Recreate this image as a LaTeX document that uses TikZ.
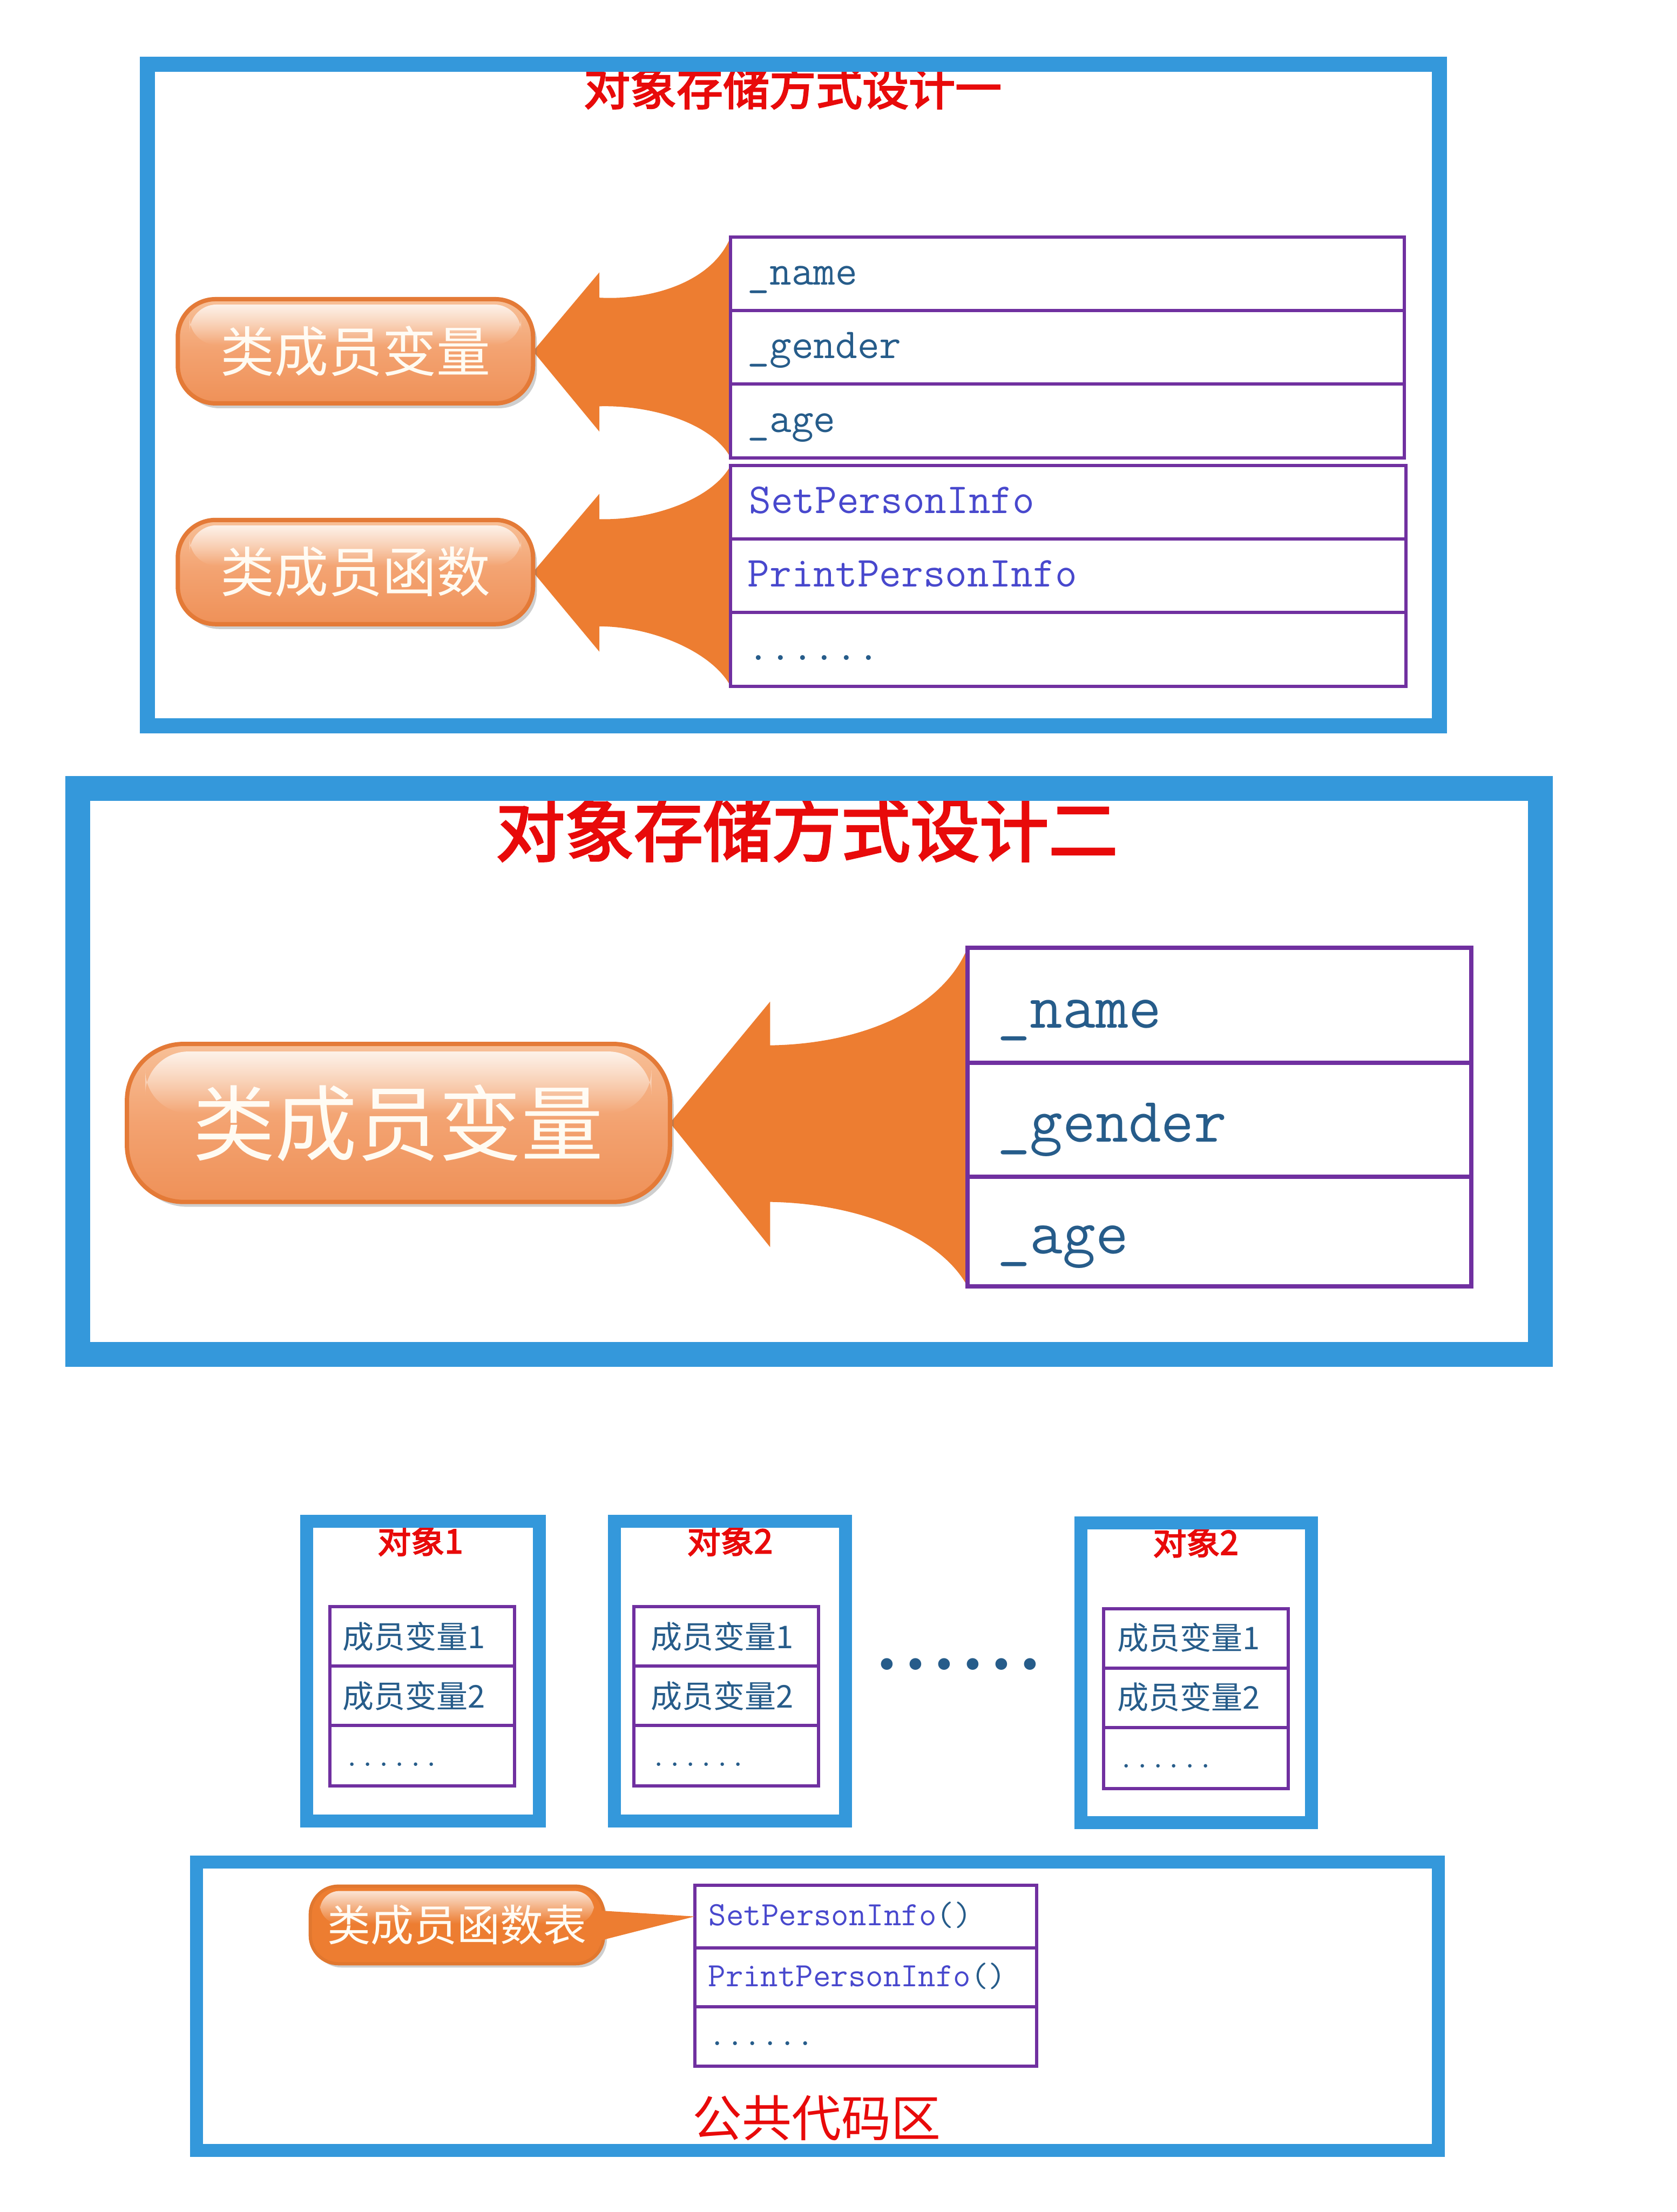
\documentclass[tikz,border=0pt]{standalone}
\usepackage{fontspec}
\newfontfamily\cjk{Noto Sans CJK SC}
\newfontfamily\cjkmed[FakeBold=3]{Noto Sans CJK SC}
\usetikzlibrary{shadows,calc,fadings}
\pgfdeclarelayer{bg}
\pgfsetlayers{bg,main}
\tikzfading[name=glossfade, top color=transparent!20, bottom color=transparent!100]
\definecolor{bluefr}{RGB}{52,152,219}
\definecolor{purp}{RGB}{112,48,160}
\definecolor{tealtxt}{RGB}{38,92,138}
\definecolor{violettxt}{RGB}{72,72,205}
\definecolor{redtxt}{RGB}{232,10,10}
\definecolor{arroworange}{RGB}{237,125,49}
\definecolor{pillline}{RGB}{228,122,55}
\definecolor{pilltop}{RGB}{247,192,152}
\definecolor{pillmid}{RGB}{243,162,112}
\definecolor{pillbot}{RGB}{239,145,88}
\definecolor{pilltext}{RGB}{255,251,242}
\newcommand\myfs[1]{\fontsize{#1}{#1}\selectfont}
\begin{document}
\begin{tikzpicture}[x=2.6123pt,y=-2.6123pt,
  frame/.style={draw=bluefr,rectangle,inner sep=0pt,outer sep=0pt},
  rowbox/.style={draw=purp,line width=6pt,rectangle,inner sep=0pt,outer sep=0pt},
  pill/.style={rectangle,draw=pillline,line width=8pt,top color=pilltop,bottom color=pillbot,middle color=pillmid,
    text=pilltext,inner sep=0pt,outer sep=0pt,
    drop shadow={shadow xshift=7pt,shadow yshift=-9pt,opacity=.35,fill=black!55}},
  pillsat/.style={rectangle,draw=arroworange!95!black,line width=6pt,fill=arroworange,
    text=pilltext,inner sep=0pt,outer sep=0pt,
    drop shadow={shadow xshift=6pt,shadow yshift=-7pt,opacity=.35,fill=black!55}},
  gloss/.style={fill=white,path fading=glossfade,fit fading=true},
  ttl/.style={text=redtxt,font=\cjkmed\myfs{#1},inner sep=0pt},
  mtxt/.style={anchor=base west,inner sep=0pt,text=tealtxt,font=\ttfamily\myfs{#1}},
  ctxt/.style={anchor=west,inner sep=0pt,text=tealtxt,font=\cjk\myfs{58pt}},
  arrowfill/.style={fill=arroworange}]

\begin{pgfonlayer}{bg}
\fill[white] (0,0) rectangle (1189,1568);
\end{pgfonlayer}
\useasboundingbox (0,0) rectangle (1189,1568);

% ---------- titles ----------
\node[ttl=86pt] (t1) at (562,62) {对象存储方式设计一};
\node[ttl=128pt] (t2) at (572,588) {对象存储方式设计二};
\node[ttl=62pt] (ot1) at (298,1092) {对象1};
\node[ttl=62pt] (ot2) at (517.5,1092) {对象2};
\node[ttl=62pt] (ot3) at (847.8,1093) {对象2};
\node[text=redtxt,font=\cjk\myfs{92pt},inner sep=0pt] (t3) at (579,1501.5) {公共代码区};

% ---------- frames ----------
\node[frame,line width=28pt,minimum width=2392.9pt,minimum height=1225.2pt] (f1) at (562.5,280) {};
\node[frame,line width=46pt,minimum width=2709pt,minimum height=1047.5pt] (f2) at (573.5,759.5) {};
\node[frame,line width=24pt,minimum width=431pt,minimum height=555pt] (o1) at (300,1184.75) {};
\node[frame,line width=24pt,minimum width=428.4pt,minimum height=555pt] (o2) at (517.5,1184.75) {};
\node[frame,line width=24pt,minimum width=427pt,minimum height=555pt] (o3) at (848.25,1185.75) {};
\node[frame,line width=24pt,minimum width=2300.6pt,minimum height=534.2pt] (f3) at (579.65,1422.25) {};

% ---------- design 1 rows ----------
\node[rowbox,minimum width=1247.4pt,minimum height=135.8pt] (r11) at (756.75,194) {};
\node[rowbox,minimum width=1247.4pt,minimum height=135.8pt] (r12) at (756.75,246) {};
\node[rowbox,minimum width=1247.4pt,minimum height=137pt] (r13) at (756.75,298.25) {};
\node[rowbox,minimum width=1251.3pt,minimum height=135.8pt] (r21) at (757.5,356) {};
\node[rowbox,minimum width=1251.3pt,minimum height=135.8pt] (r22) at (757.5,408) {};
\node[rowbox,minimum width=1251.3pt,minimum height=137pt] (r23) at (757.5,460.25) {};
\node[mtxt=79pt] (x11) at (530,202) {\_name};
\node[mtxt=79pt] (x12) at (530,254) {\_gender};
\node[mtxt=79pt] (x13) at (530,306.5) {\_age};
\node[mtxt=79pt,text=violettxt] (x21) at (531,364) {SetPersonInfo};
\node[mtxt=79pt,text=violettxt] (x22) at (530,416) {PrintPersonInfo};
\node[mtxt=79pt] (x23) at (530,468) {......};

% ---------- design 2 rows ----------
\node[rowbox,line width=8pt,minimum width=932.6pt,minimum height=212.9pt] (r31) at (864.5,712.75) {};
\node[rowbox,line width=8pt,minimum width=932.6pt,minimum height=210.3pt] (r32) at (864.5,793.75) {};
\node[rowbox,line width=8pt,minimum width=932.6pt,minimum height=203.8pt] (r33) at (864.5,873) {};
\node[mtxt=118pt] (x31) at (707,728.5) {\_name};
\node[mtxt=118pt] (x32) at (707,809.5) {\_gender};
\node[mtxt=118pt] (x33) at (707,888.5) {\_age};

% ---------- objects ----------
\node[rowbox,minimum width=342.2pt,minimum height=109.7pt] (o1a) at (299.5,1160) {};
\node[rowbox,minimum width=342.2pt,minimum height=109.7pt] (o1b) at (299.5,1202) {};
\node[rowbox,minimum width=342.2pt,minimum height=112.3pt] (o1c) at (299.5,1244.5) {};
\node[rowbox,minimum width=342.2pt,minimum height=109.7pt] (o2a) at (515,1160) {};
\node[rowbox,minimum width=342.2pt,minimum height=109.7pt] (o2b) at (515,1202) {};
\node[rowbox,minimum width=342.2pt,minimum height=112.3pt] (o2c) at (515,1244.5) {};
\node[rowbox,minimum width=342.2pt,minimum height=109.7pt] (o3a) at (848,1161.5) {};
\node[rowbox,minimum width=342.2pt,minimum height=109.7pt] (o3b) at (848,1203.5) {};
\node[rowbox,minimum width=342.2pt,minimum height=113.6pt] (o3c) at (848,1246.25) {};
\node[ctxt] (o1t1) at (243,1160) {成员变量1};
\node[ctxt] (o1t2) at (243,1202) {成员变量2};
\node[mtxt=57pt] (o1t3) at (244,1252) {......};
\node[ctxt] (o2t1) at (461.5,1160) {成员变量1};
\node[ctxt] (o2t2) at (461.5,1202) {成员变量2};
\node[mtxt=57pt] (o2t3) at (461.5,1252) {......};
\node[ctxt] (o3t1) at (792.2,1161) {成员变量1};
\node[ctxt] (o3t2) at (792.2,1203) {成员变量2};
\node[mtxt=57pt] (o3t3) at (793,1253) {......};
\node[anchor=base,text=tealtxt,font=\bfseries\myfs{150pt},inner sep=0pt] (dots) at (679.7,1184)
  {.\kern5.9pt.\kern5.9pt.\kern5.9pt.\kern5.9pt.\kern5.9pt.};

% ---------- public code area rows ----------
\node[rowbox,minimum width=633.5pt,minimum height=115.7pt] (b1) at (613.75,1358.5) {};
\node[rowbox,minimum width=633.5pt,minimum height=109.4pt] (b2) at (613.75,1401.6) {};
\node[rowbox,minimum width=633.5pt,minimum height=110pt] (b3) at (613.75,1443.6) {};
\node[mtxt=63pt,text=violettxt] (bt1) at (502.5,1365) {SetPersonInfo\textcolor{tealtxt}{()}};
\node[mtxt=63pt,text=violettxt] (bt2) at (502,1408) {PrintPersonInfo\textcolor{tealtxt}{()}};
\node[mtxt=63pt] (bt3) at (502.5,1450) {......};

% ---------- pills ----------
\node[pill,rounded corners=70pt,minimum width=658pt,minimum height=193pt,font=\cjk\myfs{100pt}] (p1) at (252,249) {类成员变量};
\node[pill,rounded corners=70pt,minimum width=658pt,minimum height=193pt,font=\cjk\myfs{100pt}] (p2) at (252,405.5) {类成员函数};
\node[pill,rounded corners=105pt,minimum width=1005.7pt,minimum height=292.6pt,font=\cjk\myfs{152pt}] (p4) at (282.5,796) {类成员变量};
\node[pillsat,rounded corners=52pt,minimum width=543.4pt,minimum height=143.7pt,font=\cjk\myfs{80pt}] (p3) at (324,1364.5) {类成员函数表};

% callout pointer of the function table
\fill[arrowfill] (420,1354) -- (b1.west) -- (420,1377) -- cycle;

% gloss highlights
\fill[gloss,rounded corners=50pt] ($(p1.north west)+(22pt,-10pt)$) rectangle ($(p1.east)+(-22pt,12pt)$);
\fill[gloss,rounded corners=50pt] ($(p2.north west)+(22pt,-10pt)$) rectangle ($(p2.east)+(-22pt,12pt)$);
\fill[gloss,rounded corners=80pt] ($(p4.north west)+(34pt,-14pt)$) rectangle ($(p4.east)+(-34pt,18pt)$);
\fill[gloss,rounded corners=36pt] ($(p3.north west)+(18pt,-9pt)$) rectangle ($(p3.east)+(-18pt,2pt)$);

% ---------- big arrows ----------
\begin{pgfonlayer}{bg}
\fill[arrowfill] (p1.east) -- (425,193) -- (425,211) .. controls (462,213) and (505,200) .. (r11.north west)
  -- (r13.south west) .. controls (505,300) and (462,287) .. (425,288) -- (425,306) -- cycle;
\fill[arrowfill] (p2.east) -- (425,350) -- (425,368) .. controls (462,369) and (505,354) .. (r21.north west)
  -- (r23.south west) .. controls (505,462) and (462,444) .. (425,444) -- (425,462) -- cycle;
\fill[arrowfill] (p4.east) -- (546,710) -- (546,741) .. controls (612,740) and (668,715) .. (r31.north west)
  -- (r33.south west) .. controls (668,878) and (612,853) .. (546,852) -- (546,884) -- cycle;
\end{pgfonlayer}
\end{tikzpicture}
\end{document}
